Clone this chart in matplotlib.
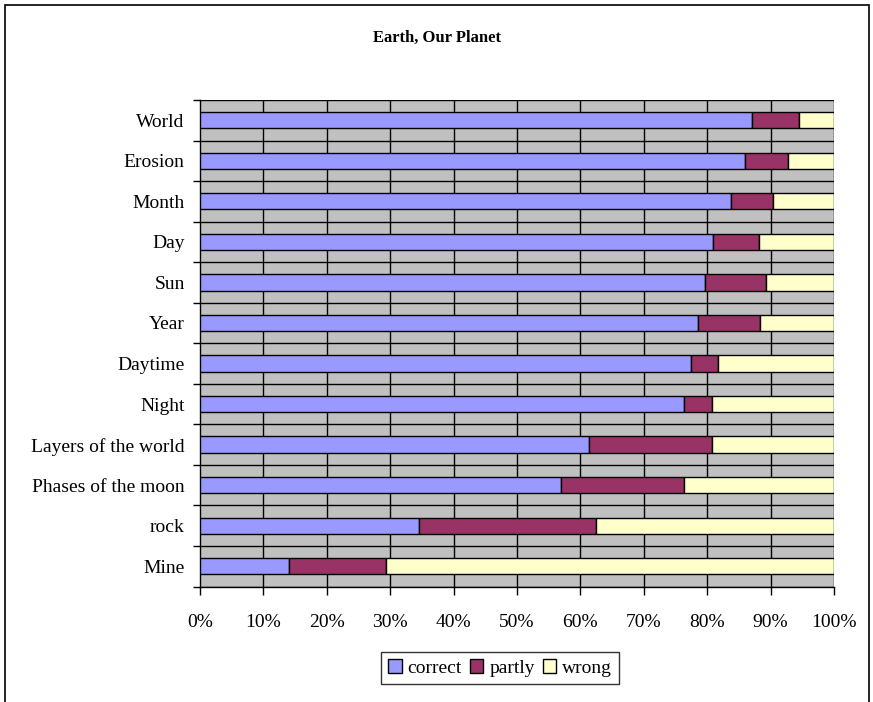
import numpy as np
import matplotlib
matplotlib.use("Agg")
import matplotlib.pyplot as plt
from matplotlib.patches import Rectangle

plt.rcParams['font.family'] = ['Liberation Serif', 'DejaVu Serif']

# categories from top to bottom
topics = ["World", "Erosion", "Month", "Day", "Sun", "Year", "Daytime",
          "Night", "Layers of the world", "Phases of the moon", "rock", "Mine"]
# shares in percent
correct = [87.1, 86.0, 83.8, 80.9, 79.6, 78.5, 77.5, 76.4, 61.4, 57.0, 34.5, 14.0]
partly = [7.4, 6.7, 6.6, 7.3, 9.7, 9.8, 4.2, 4.3, 19.3, 19.4, 28.0, 15.3]
wrong = [100 - c - p for c, p in zip(correct, partly)]

series_names = ["correct", "partly", "wrong"]
colors = ["#9999FF", "#993366", "#FFFFCC"]

W, H = 873, 702
fig = plt.figure(figsize=(W / 100, H / 100), dpi=100)
fig.patch.set_facecolor("white")

# chart frame (runs past the lower edge)
fig.add_artist(Rectangle((5 / W, -0.05), 864 / W, 1.05 - 5 / H, transform=fig.transFigure,
                         fill=False, edgecolor="black", linewidth=1.2, clip_on=False))

ax = fig.add_axes([200 / W, (H - 586.5) / H, 634 / W, 486.5 / H])
ax.set_facecolor("#C0C0C0")

y = np.arange(len(topics))[::-1]
left = np.zeros(len(topics))
for vals, name, col in zip([correct, partly, wrong], series_names, colors):
    ax.barh(y, vals, left=left, height=0.4, color=col, edgecolor="black",
            linewidth=1.0, label=name, zorder=3)
    left += np.array(vals)

ax.set_xlim(0, 100)
ax.set_ylim(-0.5, len(topics) - 0.5)

# gridlines: verticals every 10%, horizontals at category boundaries
for xv in range(10, 101, 10):
    ax.axvline(xv, color="black", linewidth=1.0, zorder=1)
for yb in np.arange(-0.5, len(topics), 1.0):
    ax.axhline(yb, color="black", linewidth=1.0, zorder=1)

ax.set_xticks(range(0, 101, 10))
ax.set_xticklabels([f"{v}%" for v in range(0, 101, 10)], fontsize=14)
ax.set_yticks(y)
ax.set_yticklabels(topics, fontsize=14)
ax.set_yticks(np.arange(-0.5, len(topics), 1.0), minor=True)
ax.tick_params(axis="y", which="major", length=0, pad=11)
ax.tick_params(axis="y", which="minor", length=5, direction="out", width=1)
ax.tick_params(axis="x", length=6, direction="out", width=1, pad=14)

for side in ["top", "right"]:
    ax.spines[side].set_visible(False)
ax.spines["left"].set_linewidth(1.0)
ax.spines["bottom"].set_linewidth(1.0)

fig.text(437 / W, 1 - 38 / H, "Earth, Our Planet", ha="center", va="center",
         fontsize=12, fontweight="bold")

leg = fig.legend(loc="center", bbox_to_anchor=(500 / W, 1 - 668 / H), ncol=3,
                 fontsize=14, frameon=True, fancybox=False, edgecolor="black",
                 handlelength=0.7, handleheight=0.7, handletextpad=0.3,
                 columnspacing=0.4, borderpad=0.35)
leg.get_frame().set_linewidth(1.0)

fig.savefig("out.png", dpi=100)
